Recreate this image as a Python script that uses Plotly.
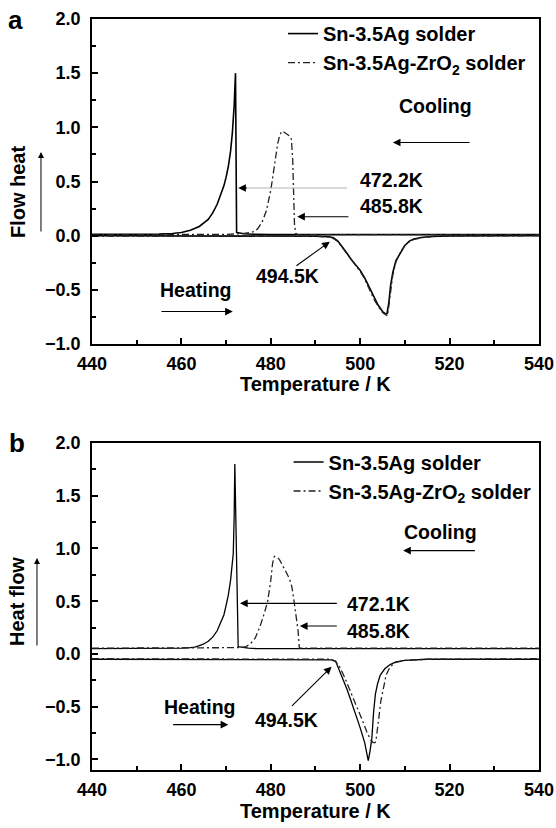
import plotly.graph_objects as go

# ---------------- Panel a data ----------------
a_sn_cool_x = [440, 450, 455, 458, 460, 462, 464, 466, 467, 468, 469, 469.5, 470, 470.5, 471, 471.4, 471.8, 472.1, 472.35, 473, 474, 476, 480, 540]
a_sn_cool_y = [0.012, 0.012, 0.014, 0.02, 0.03, 0.05, 0.085, 0.15, 0.21, 0.29, 0.40, 0.46, 0.54, 0.64, 0.78, 0.95, 1.2, 1.5, 0.03, 0.025, 0.018, 0.013, 0.01, 0.01]

a_zr_cool_x = [440, 460, 470, 474, 476, 477, 478, 479, 480, 481, 481.5, 482, 482.5, 483, 483.6, 484.2, 484.6, 484.9, 485.1, 485.3, 485.6, 486, 540]
a_zr_cool_y = [0.008, 0.01, 0.012, 0.02, 0.035, 0.06, 0.12, 0.23, 0.42, 0.70, 0.84, 0.93, 0.965, 0.955, 0.935, 0.92, 0.89, 0.70, 0.40, 0.10, 0.02, 0.01, 0.01]

a_sn_heat_x = [440, 480, 490, 493, 494, 495, 496, 497, 498, 499, 500, 501, 502, 503, 504, 505, 505.6, 506.0, 506.4, 506.8, 507.3, 508, 509, 510, 511, 512, 514, 516, 520, 540]
a_sn_heat_y = [0.0, 0.0, -0.005, -0.01, -0.02, -0.05, -0.10, -0.16, -0.22, -0.27, -0.32, -0.39, -0.47, -0.56, -0.64, -0.70, -0.72, -0.72, -0.62, -0.46, -0.34, -0.23, -0.155, -0.09, -0.05, -0.03, -0.015, -0.008, -0.003, 0.0]

a_zr_heat_x = [440, 480, 490, 493, 494, 495, 496, 497, 498, 499, 500, 501, 502, 503, 504, 505, 505.7, 506.1, 506.4, 506.8, 507.3, 508, 509, 510, 511, 512, 514, 516, 520, 540]
a_zr_heat_y = [-0.003, -0.003, -0.006, -0.012, -0.025, -0.055, -0.11, -0.17, -0.23, -0.28, -0.33, -0.40, -0.49, -0.58, -0.65, -0.71, -0.73, -0.74, -0.65, -0.50, -0.36, -0.24, -0.15, -0.09, -0.055, -0.035, -0.017, -0.008, -0.003, 0.0]

# ---------------- Panel b data ----------------
b_sn_cool_x = [440, 455, 460, 462, 463, 464, 465, 466, 467, 468, 469, 469.5, 470, 470.5, 471, 471.3, 471.6, 471.8, 471.95, 472.7, 473.5, 475, 477, 540]
b_sn_cool_y = [0.05, 0.05, 0.055, 0.06, 0.065, 0.08, 0.095, 0.12, 0.16, 0.22, 0.31, 0.37, 0.46, 0.56, 0.70, 0.80, 0.95, 1.3, 1.8, 0.07, 0.065, 0.055, 0.05, 0.05]

b_zr_cool_x = [440, 470, 473, 474.5, 475.5, 476.5, 477.5, 478.5, 479.3, 480, 480.4, 480.8, 481.5, 482, 482.8, 483.5, 484.2, 484.7, 485.2, 485.7, 486.1, 486.3, 486.4, 487, 540]
b_zr_cool_y = [0.055, 0.055, 0.06, 0.07, 0.10, 0.15, 0.25, 0.38, 0.50, 0.70, 0.86, 0.925, 0.915, 0.89, 0.83, 0.77, 0.71, 0.64, 0.50, 0.35, 0.22, 0.10, 0.055, 0.055, 0.055]

b_sn_heat_x = [440, 480, 492, 493.5, 494.5, 496, 497, 498, 499, 500, 501, 501.8, 502.2, 502.6, 503.0, 503.4, 503.9, 504.5, 505.5, 506.7, 508, 510, 515, 540]
b_sn_heat_y = [-0.05, -0.05, -0.05, -0.055, -0.07, -0.22, -0.33, -0.45, -0.57, -0.70, -0.84, -1.01, -0.92, -0.80, -0.55, -0.38, -0.28, -0.20, -0.14, -0.10, -0.075, -0.06, -0.05, -0.05]

b_zr_heat_x = [440, 480, 492, 493.5, 494.5, 495.5, 496.5, 497.5, 498.5, 499.5, 500.5, 501.5, 502.3, 502.9, 503.3, 503.5, 503.8, 504.1, 504.6, 505.2, 505.8, 506.7, 508, 510, 515, 540]
b_zr_heat_y = [-0.045, -0.045, -0.045, -0.05, -0.07, -0.13, -0.22, -0.32, -0.42, -0.52, -0.63, -0.74, -0.81, -0.84, -0.84, -0.83, -0.75, -0.63, -0.45, -0.31, -0.20, -0.12, -0.08, -0.06, -0.05, -0.045]

series_names = ["Sn-3.5Ag solder", "Sn-3.5Ag-ZrO<sub>2</sub> solder"]

# annotation texts: (text, x, y)
a_texts = [("Cooling", 516.8, 1.196), ("472.2K", 507.0, 0.515), ("485.8K", 507.0, 0.273),
           ("494.5K", 483.7, -0.375), ("Heating", 463.2, -0.50)]
b_texts = [("Cooling", 517.9, 1.158), ("472.1K", 504.1, 0.472), ("485.8K", 504.1, 0.22),
           ("494.5K", 483.6, -0.63), ("Heating", 464.2, -0.505)]
# arrows: (head x, head y, tail x, tail y, color)
a_arrows = [(507.3, 0.86, 524.8, 0.86, "black"), (474.5, 0.44, 497.4, 0.44, "#b5b5b5"),
            (472.7, 0.44, 475.0, 0.44, "black"), (485.9, 0.175, 497.7, 0.175, "black"),
            (493.2, -0.056, 485.4, -0.287, "black"), (471.5, -0.70, 455.2, -0.70, "black")]
b_arrows = [(509.6, 0.98, 526.0, 0.98, "black"), (473.1, 0.48, 495.1, 0.48, "black"),
            (486.5, 0.265, 495.1, 0.265, "black"), (493.6, -0.12, 484.4, -0.505, "black"),
            (470.5, -0.67, 457.8, -0.67, "black")]

FONT = "Liberation Sans, Arial, sans-serif"
SOLID = dict(color="black", width=1.6)
DASHDOT = dict(color="#222222", width=1.3, dash="7px,3px,2px,3px")

fig = go.Figure()

def add(x, y, line, name, show, xa, ya, leg, grp):
    fig.add_trace(go.Scatter(x=x, y=y, mode="lines", line=line, name=name, showlegend=show,
                             legend=leg, legendgroup=grp, xaxis=xa, yaxis=ya, hoverinfo="skip"))

add(a_sn_cool_x, a_sn_cool_y, SOLID, series_names[0], True, "x", "y", "legend", "a1")
add(a_sn_heat_x, a_sn_heat_y, SOLID, series_names[0], False, "x", "y", "legend", "a1")
add(a_zr_cool_x, a_zr_cool_y, DASHDOT, series_names[1], True, "x", "y", "legend", "a2")
add(a_zr_heat_x, a_zr_heat_y, DASHDOT, series_names[1], False, "x", "y", "legend", "a2")

add(b_sn_cool_x, b_sn_cool_y, dict(color="black", width=1.3), series_names[0], True, "x2", "y2", "legend2", "b1")
add(b_sn_heat_x, b_sn_heat_y, dict(color="black", width=1.3), series_names[0], False, "x2", "y2", "legend2", "b1")
add(b_zr_cool_x, b_zr_cool_y, DASHDOT, series_names[1], True, "x2", "y2", "legend2", "b2")
add(b_zr_heat_x, b_zr_heat_y, DASHDOT, series_names[1], False, "x2", "y2", "legend2", "b2")

tickfont = dict(family=FONT, size=18, color="black", weight="bold")

def xax(anchor):
    return dict(domain=[0.1655, 0.9694], anchor=anchor, range=[440, 540], dtick=20, tick0=440,
                ticks="inside", ticklen=6, tickwidth=1.5, tickcolor="black",
                minor=dict(ticks="inside", ticklen=4, dtick=10, tick0=440, tickcolor="black", tickwidth=1.5),
                showline=True, mirror=True, linewidth=1.6, linecolor="black", automargin=False,
                showgrid=False, zeroline=False, tickfont=tickfont, ticklabelstandoff=3)

def yax(anchor, dom, rng):
    return dict(domain=dom, anchor=anchor, range=rng, dtick=0.5, tick0=0, tickformat=".1f",
                ticks="inside", ticklen=6, tickwidth=1.5, tickcolor="black",
                minor=dict(ticks="inside", ticklen=4, dtick=0.25, tick0=0, tickcolor="black", tickwidth=1.5),
                showline=True, mirror=True, linewidth=1.6, linecolor="black", automargin=False,
                showgrid=False, zeroline=False, tickfont=tickfont, ticklabelstandoff=6)

annots = []
txtfont = dict(family=FONT, size=19.5, color="black", weight="bold")
for xr, yr, texts, arrows in [("x", "y", a_texts, a_arrows), ("x2", "y2", b_texts, b_arrows)]:
    for t, x, y in texts:
        annots.append(dict(text=t, x=x, y=y, xref=xr, yref=yr, showarrow=False, font=txtfont))
    for hx, hy, tx, ty, col in arrows:
        annots.append(dict(text="", x=hx, y=hy, ax=tx, ay=ty, xref=xr, yref=yr, axref=xr, ayref=yr,
                           showarrow=True, arrowhead=(0 if col != "black" else 2), arrowsize=1.4,
                           arrowwidth=1.1, arrowcolor=col, standoff=0))

titlefont = dict(family=FONT, size=20, color="black", weight="bold")
panelfont = dict(family=FONT, size=26, color="black", weight="bold")
for txt, x, y, f, ang in [("Temperature / K", 0.5675, 0.5362, titlefont, 0),
                          ("Temperature / K", 0.5675, 0.0205, titlefont, 0),
                          ("Flow heat", 0.0324, 0.768, titlefont, -90),
                          ("Heat flow", 0.0306, 0.273, titlefont, -90),
                          ("a", 0.027, 0.9758, panelfont, 0),
                          ("b", 0.030, 0.465, panelfont, 0)]:
    annots.append(dict(text=txt, x=x, y=y, xref="paper", yref="paper", showarrow=False,
                       font=f, textangle=ang, xanchor="center", yanchor="middle"))
# up arrows beside the y titles (head position in paper coords, tail offset in pixels)
for x, y1, length in [(0.0737, 0.8164, 81), (0.0665, 0.3261, 89)]:
    annots.append(dict(text="", x=x, y=y1, ax=0, ay=length, xref="paper", yref="paper",
                       showarrow=True, arrowhead=2,
                       arrowsize=1.2, arrowwidth=1.0, arrowcolor="black", standoff=0))

legfont = dict(family=FONT, size=20, color="black", weight="bold")
fig.update_layout(
    width=556, height=828, margin=dict(l=0, r=0, t=0, b=0, pad=0, autoexpand=False),
    paper_bgcolor="white", plot_bgcolor="white",
    xaxis=xax("y"), yaxis=yax("x", [0.5845, 0.9771], [-1.0, 2.0]),
    xaxis2=xax("y2"), yaxis2=yax("x2", [0.0700, 0.4650], [-1.1, 2.0]),
    legend=dict(x=0.509, y=0.983, xanchor="left", yanchor="top", bgcolor="rgba(0,0,0,0)",
                font=legfont, tracegroupgap=0),
    legend2=dict(x=0.519, y=0.4656, xanchor="left", yanchor="top", bgcolor="rgba(0,0,0,0)",
                 font=legfont, tracegroupgap=0),
    annotations=annots,
)

fig.write_html("out.html")
